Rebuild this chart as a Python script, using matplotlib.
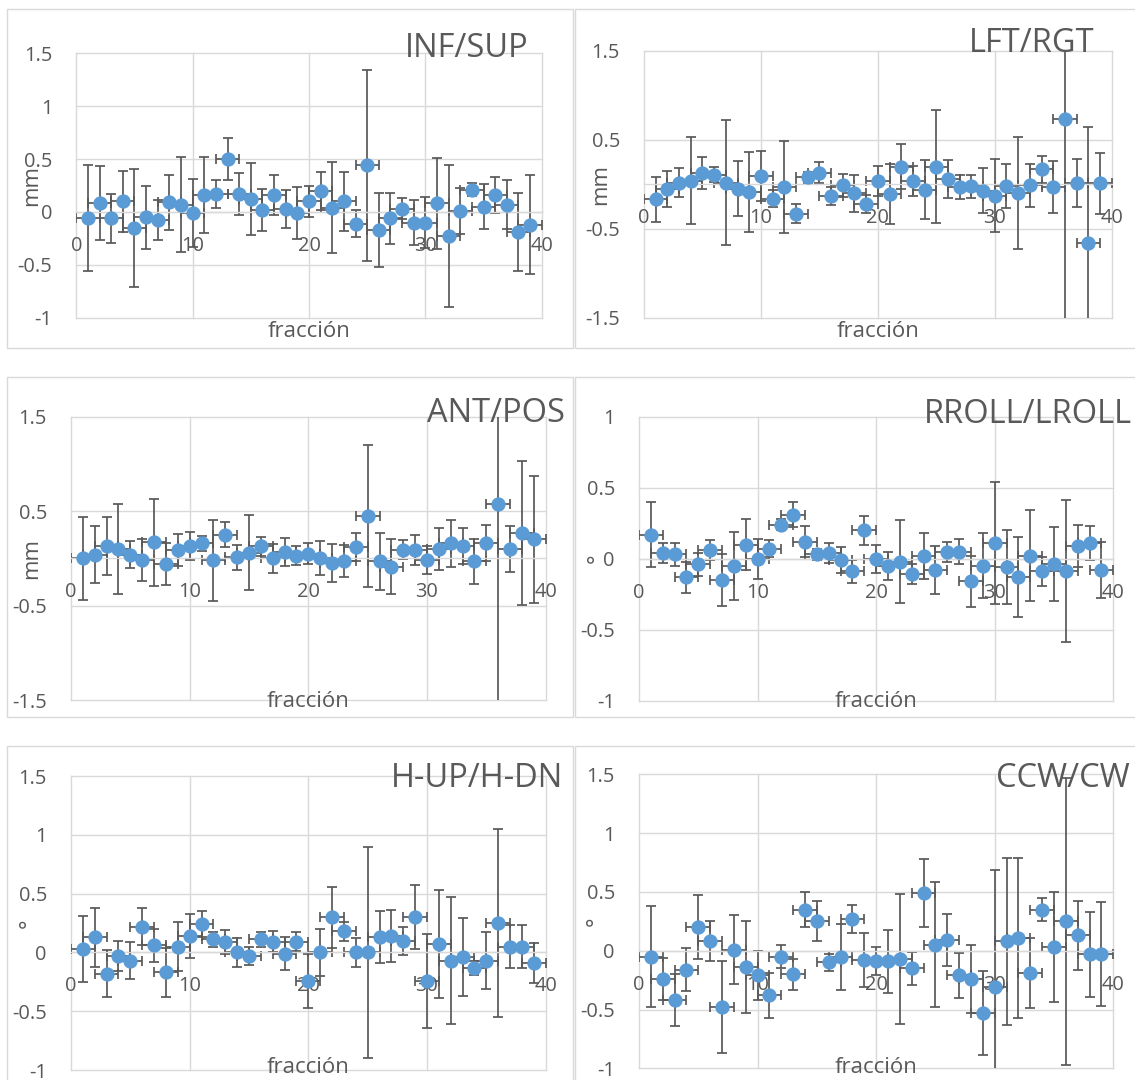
import matplotlib
matplotlib.use('Agg')
import matplotlib.pyplot as plt
from matplotlib.patches import Rectangle
from matplotlib.ticker import FuncFormatter

plt.rcParams['font.family'] = ['Open Sans', 'DejaVu Sans']
plt.rcParams['axes.unicode_minus'] = False

# ---------------- data ----------------
fracciones = [1, 2, 3, 4, 5, 6, 7, 8, 9, 10, 11, 12, 13, 14, 15, 16, 17, 18, 19, 20,
              21, 22, 23, 24, 25, 26, 27, 28, 29, 30, 31, 32, 33, 34, 35, 36, 37, 38, 39]
x_error = 1

inf_sup = [-0.06, 0.08, -0.06, 0.10, -0.15, -0.05, -0.08, 0.09, 0.07, -0.01,
           0.16, 0.17, 0.50, 0.17, 0.12, 0.02, 0.16, 0.03, -0.01, 0.10,
           0.20, 0.04, 0.10, -0.11, 0.44, -0.17, -0.06, 0.03, -0.10, -0.10,
           0.08, -0.23, 0.01, 0.21, 0.05, 0.16, 0.07, -0.19, -0.12]
inf_sup_err = [0.50, 0.35, 0.23, 0.29, 0.56, 0.30, 0.19, 0.26, 0.45, 0.32,
               0.36, 0.13, 0.20, 0.20, 0.34, 0.20, 0.19, 0.18, 0.25, 0.15,
               0.18, 0.43, 0.28, 0.13, 0.90, 0.35, 0.24, 0.10, 0.21, 0.24,
               0.43, 0.67, 0.22, 0.06, 0.21, 0.17, 0.23, 0.37, 0.47]

lft_rgt = [-0.17, -0.05, 0.02, 0.04, 0.13, 0.11, 0.02, -0.05, -0.09, 0.09,
           -0.16, -0.03, -0.33, 0.08, 0.13, -0.13, -0.01, -0.10, -0.22, 0.04,
           -0.11, 0.20, 0.04, -0.06, 0.20, 0.06, -0.03, -0.02, -0.07, -0.13,
           -0.02, -0.10, -0.01, 0.17, -0.03, 0.73, 0.02, -0.66, 0.01]
lft_rgt_err = [0.25, 0.20, 0.16, 0.49, 0.18, 0.08, 0.70, 0.31, 0.45, 0.28,
               0.10, 0.52, 0.11, 0.06, 0.12, 0.10, 0.13, 0.21, 0.10, 0.17,
               0.34, 0.25, 0.17, 0.33, 0.64, 0.21, 0.13, 0.13, 0.25, 0.41,
               0.25, 0.63, 0.24, 0.15, 0.29, 2.50, 0.27, 1.30, 0.34]

ant_pos = [0.00, 0.04, 0.13, 0.10, 0.04, -0.02, 0.17, -0.06, 0.09, 0.13,
           0.16, -0.02, 0.25, 0.01, 0.06, 0.13, 0.00, 0.07, 0.03, 0.05,
           0.00, -0.05, -0.03, 0.12, 0.45, -0.03, -0.09, 0.09, 0.09, -0.02,
           0.10, 0.16, 0.13, -0.03, 0.16, 0.58, 0.10, 0.27, 0.20]
ant_pos_err = [0.44, 0.30, 0.31, 0.48, 0.14, 0.22, 0.46, 0.22, 0.17, 0.15,
               0.08, 0.43, 0.13, 0.13, 0.40, 0.10, 0.15, 0.15, 0.10, 0.11,
               0.18, 0.20, 0.17, 0.15, 0.75, 0.30, 0.29, 0.10, 0.16, 0.15,
               0.22, 0.25, 0.19, 0.24, 0.19, 2.50, 0.24, 0.76, 0.67]

rroll_lroll = [0.17, 0.04, 0.03, -0.13, -0.04, 0.06, -0.15, -0.05, 0.10, 0.00,
               0.07, 0.24, 0.31, 0.12, 0.03, 0.04, -0.01, -0.09, 0.20, 0.00,
               -0.05, -0.02, -0.11, 0.02, -0.08, 0.05, 0.05, -0.16, -0.05, 0.11,
               -0.06, -0.13, 0.02, -0.09, -0.04, -0.09, 0.09, 0.11, -0.08]
rroll_lroll_err = [0.23, 0.07, 0.08, 0.11, 0.08, 0.07, 0.18, 0.24, 0.18, 0.14,
                   0.06, 0.04, 0.09, 0.11, 0.04, 0.07, 0.09, 0.08, 0.10, 0.10,
                   0.10, 0.29, 0.07, 0.16, 0.17, 0.07, 0.09, 0.18, 0.23, 0.43,
                   0.26, 0.28, 0.32, 0.10, 0.26, 0.50, 0.15, 0.12, 0.20]

hup_hdn = [0.03, 0.13, -0.18, -0.03, -0.07, 0.22, 0.06, -0.17, 0.05, 0.14,
           0.24, 0.11, 0.09, 0.00, -0.03, 0.11, 0.09, -0.01, 0.09, -0.24,
           0.00, 0.30, 0.18, 0.00, 0.00, 0.13, 0.14, 0.10, 0.30, -0.24,
           0.07, -0.07, -0.04, -0.13, -0.07, 0.25, 0.05, 0.05, -0.09]
hup_hdn_err = [0.28, 0.25, 0.20, 0.13, 0.16, 0.16, 0.14, 0.21, 0.21, 0.19,
               0.11, 0.06, 0.10, 0.12, 0.08, 0.06, 0.09, 0.14, 0.08, 0.23,
               0.20, 0.26, 0.08, 0.12, 0.90, 0.22, 0.22, 0.12, 0.27, 0.40,
               0.46, 0.54, 0.33, 0.06, 0.24, 0.80, 0.18, 0.18, 0.17]

ccw_cw = [-0.05, -0.24, -0.42, -0.16, 0.20, 0.08, -0.48, 0.01, -0.14, -0.21,
          -0.38, -0.05, -0.20, 0.35, 0.25, -0.10, -0.05, 0.27, -0.08, -0.09,
          -0.09, -0.07, -0.15, 0.49, 0.05, 0.09, -0.21, -0.24, -0.53, -0.31,
          0.08, 0.11, -0.19, 0.35, 0.03, 0.25, 0.13, -0.03, -0.03]
ccw_cw_err = [0.43, 0.18, 0.22, 0.18, 0.27, 0.17, 0.39, 0.29, 0.39, 0.21,
              0.19, 0.10, 0.13, 0.15, 0.17, 0.07, 0.28, 0.12, 0.23, 0.12,
              0.27, 0.55, 0.14, 0.29, 0.53, 0.22, 0.19, 0.29, 0.36, 1.00,
              0.71, 0.68, 0.30, 0.10, 0.47, 1.22, 0.29, 0.36, 0.44]

x_ticks = [0, 10, 20, 30, 40]
ticks_a = [-1, -0.5, 0, 0.5, 1, 1.5]
ticks_b = [-1.5, -0.5, 0.5, 1.5]
ticks_c = [-1, -0.5, 0, 0.5, 1]

titles = ['INF/SUP', 'LFT/RGT', 'ANT/POS', 'RROLL/LROLL', 'H-UP/H-DN', 'CCW/CW']
units = ['mm', 'mm', 'mm', '°', '°', '°']
x_title = 'fracción'

# ---------------- layout (pixels) ----------------
W, H = 1135, 1080
fig = plt.figure(figsize=(W / 100, H / 100), dpi=100)

def fx(p):
    return p / W

def fy(p):
    return 1 - p / H

panels = [
    dict(vals=inf_sup, errs=inf_sup_err, ylim=(-1, 1.5), yt=ticks_a,
         plot=(76.3, 53.3, 541.7, 317.7), chart=(7, 9, 573, 348),
         title_xy=(528, 57), xlab_y=337, ylab_x=37),
    dict(vals=lft_rgt, errs=lft_rgt_err, ylim=(-1.5, 1.5), yt=ticks_b,
         plot=(644, 51, 1111.7, 317.7), chart=(575, 9, 1145, 348),
         title_xy=(1095, 52), xlab_y=337, ylab_x=606),
    dict(vals=ant_pos, errs=ant_pos_err, ylim=(-1.5, 1.5), yt=ticks_b,
         plot=(71, 416.7, 545.7, 700), chart=(7, 377, 573, 717),
         title_xy=(565, 422), xlab_y=707, ylab_x=37),
    dict(vals=rroll_lroll, errs=rroll_lroll_err, ylim=(-1, 1), yt=ticks_c,
         plot=(639, 416.7, 1113.3, 700.7), chart=(575, 377, 1145, 717),
         title_xy=(1132, 423), xlab_y=707, ylab_x=603),
    dict(vals=hup_hdn, errs=hup_hdn_err, ylim=(-1, 1.5), yt=ticks_a,
         plot=(71, 776, 545.7, 1070), chart=(7, 746, 573, 1095),
         title_xy=(563, 787), xlab_y=1073, ylab_x=35),
    dict(vals=ccw_cw, errs=ccw_cw_err, ylim=(-1, 1.5), yt=ticks_a,
         plot=(639, 774.3, 1113.3, 1068.3), chart=(575, 746, 1145, 1095),
         title_xy=(1130, 787), xlab_y=1073, ylab_x=602),
]

GRID = '#d9d9d9'
TXT = '#595959'
MARK = '#5B9BD5'

fmt = FuncFormatter(lambda v, _: ('%g' % v))

for i, p in enumerate(panels):
    cl, ct, cr, cb = p['chart']
    fig.patches.append(Rectangle((fx(cl), fy(cb)), (cr - cl) / W, (cb - ct) / H,
                                 transform=fig.transFigure, fill=False,
                                 edgecolor=GRID, lw=1.0, zorder=0))
    l, t, r, b = p['plot']
    ax = fig.add_axes([fx(l), fy(b), (r - l) / W, (b - t) / H])
    ax.set_xlim(0, 40)
    ax.set_ylim(*p['ylim'])
    ax.set_xticks(x_ticks)
    ax.set_yticks(p['yt'])
    ax.xaxis.set_major_formatter(fmt)
    ax.yaxis.set_major_formatter(fmt)
    ax.grid(True, color=GRID, lw=1.0)
    ax.set_axisbelow(True)
    for s in ['top', 'right', 'left']:
        ax.spines[s].set_visible(False)
    ax.spines['bottom'].set_position(('data', 0))
    ax.spines['bottom'].set_color(GRID)
    ax.spines['bottom'].set_linewidth(1.0)
    ax.tick_params(axis='both', length=0, labelsize=14.4, labelcolor=TXT)
    ax.tick_params(axis='x', pad=17.3)
    ax.tick_params(axis='y', pad=17.3)
    for gl in ax.get_xgridlines() + ax.get_ygridlines():
        gl.set_clip_on(False)
    ax.patch.set_alpha(0)

    ax.errorbar(fracciones, p['vals'], yerr=p['errs'], xerr=x_error, fmt='none',
                ecolor=TXT, elinewidth=1.25, capsize=3.85, capthick=1.25, zorder=2)
    ax.plot(fracciones, p['vals'], 'o', ms=10.3, mew=0, color=MARK, zorder=3)

    tx, ty = p['title_xy']
    fig.text(fx(tx), fy(ty), titles[i], ha='right', va='baseline',
             fontsize=23.5, color=TXT)
    fig.text(fx((l + r) / 2), fy(p['xlab_y']), x_title, ha='center', va='baseline',
             fontsize=16, color=TXT)
    fig.text(fx(p['ylab_x']), fy((t + b) / 2), units[i], rotation=90,
             rotation_mode='anchor', ha='center', va='baseline',
             fontsize=16, color=TXT)

fig.savefig('out.png', dpi=100, facecolor='white')
